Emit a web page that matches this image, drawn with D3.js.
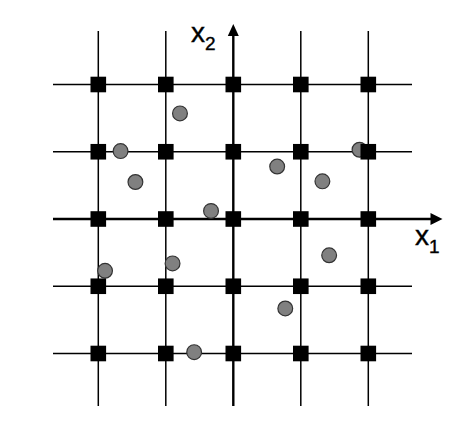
<!DOCTYPE html>
<html>
<head>
<meta charset="utf-8">
<script src="https://cdn.jsdelivr.net/npm/d3@7"></script>
<style>
html,body{margin:0;padding:0;background:#fff;}
svg{display:block;}
</style>
</head>
<body>
<svg id="chart" width="470" height="440"></svg>
<script>
// grid lattice values
const gridValues = [-2, -1, 0, 1, 2];
// random sample points (x1, x2)
const sampleX = [-0.79, -1.67, -1.45, -0.33, 0.65, 1.32, 1.87, 1.42, -0.90, -1.90, 0.77, -0.58];
const sampleY = [ 1.57,  1.01,  0.55,  0.12, 0.78, 0.56, 1.03, -0.54, -0.66, -0.77, -1.33, -1.98];
const axisLabels = [{name: "x", sub: "1"}, {name: "x", sub: "2"}];

const svg = d3.select("#chart");
const x = d3.scaleLinear().domain([-2, 2]).range([98.3, 368.3]);
const y = d3.scaleLinear().domain([-2, 2]).range([353.5, 84.5]);

const xExt = [x.invert(53), x.invert(412)];
const yExt = [y.invert(406), y.invert(31)];

const g = svg.append("g");

g.selectAll("line.v").data(gridValues.filter(d => d !== 0)).join("line")
  .attr("x1", d => x(d)).attr("x2", d => x(d))
  .attr("y1", y(yExt[0])).attr("y2", y(yExt[1]))
  .attr("stroke", "#000").attr("stroke-width", 1.5);
g.selectAll("line.h").data(gridValues.filter(d => d !== 0)).join("line")
  .attr("y1", d => y(d)).attr("y2", d => y(d))
  .attr("x1", x(xExt[0])).attr("x2", x(xExt[1]))
  .attr("stroke", "#000").attr("stroke-width", 1.5);

// vertical axis
g.append("line")
  .attr("x1", x(0)).attr("x2", x(0))
  .attr("y1", y(yExt[0])).attr("y2", 36)
  .attr("stroke", "#000").attr("stroke-width", 2.4);
g.append("path")
  .attr("d", `M${x(0)},24 L${x(0)-5.5},36 L${x(0)+5.5},36 Z`)
  .attr("fill", "#000");
// horizontal axis
g.append("line")
  .attr("y1", y(0)).attr("y2", y(0))
  .attr("x1", x(xExt[0])).attr("x2", 431)
  .attr("stroke", "#000").attr("stroke-width", 2.4);
g.append("path")
  .attr("d", `M442.5,${y(0)} L430.5,${y(0)-6} L430.5,${y(0)+6} Z`)
  .attr("fill", "#000");

const pts = sampleX.map((v, i) => ({x: v, y: sampleY[i]}));
g.selectAll("circle").data(pts).join("circle")
  .attr("cx", d => x(d.x)).attr("cy", d => y(d.y))
  .attr("r", 7.4)
  .attr("fill", "#808080")
  .attr("stroke", "#333")
  .attr("stroke-width", 1.2);

const lattice = [];
gridValues.forEach(a => gridValues.forEach(b => lattice.push({x: a, y: b})));
const sq = 15.6;
g.selectAll("rect").data(lattice).join("rect")
  .attr("x", d => x(d.x) - sq/2).attr("y", d => y(d.y) - sq/2)
  .attr("width", sq).attr("height", sq)
  .attr("fill", "#000");

const labelPos = [[415, 245], [191, 41.5]];
axisLabels.forEach((l, i) => {
  const t = svg.append("text")
    .attr("x", labelPos[i][0]).attr("y", labelPos[i][1])
    .style("font-family", "'Liberation Sans', Arial, sans-serif")
    .attr("font-size", 28).attr("fill", "#000")
    .attr("stroke", "#000").attr("stroke-width", 0.4);
  t.append("tspan").text(l.name);
  t.append("tspan").attr("dy", 8).attr("font-size", 19).text(l.sub);
});
</script>
</body>
</html>
